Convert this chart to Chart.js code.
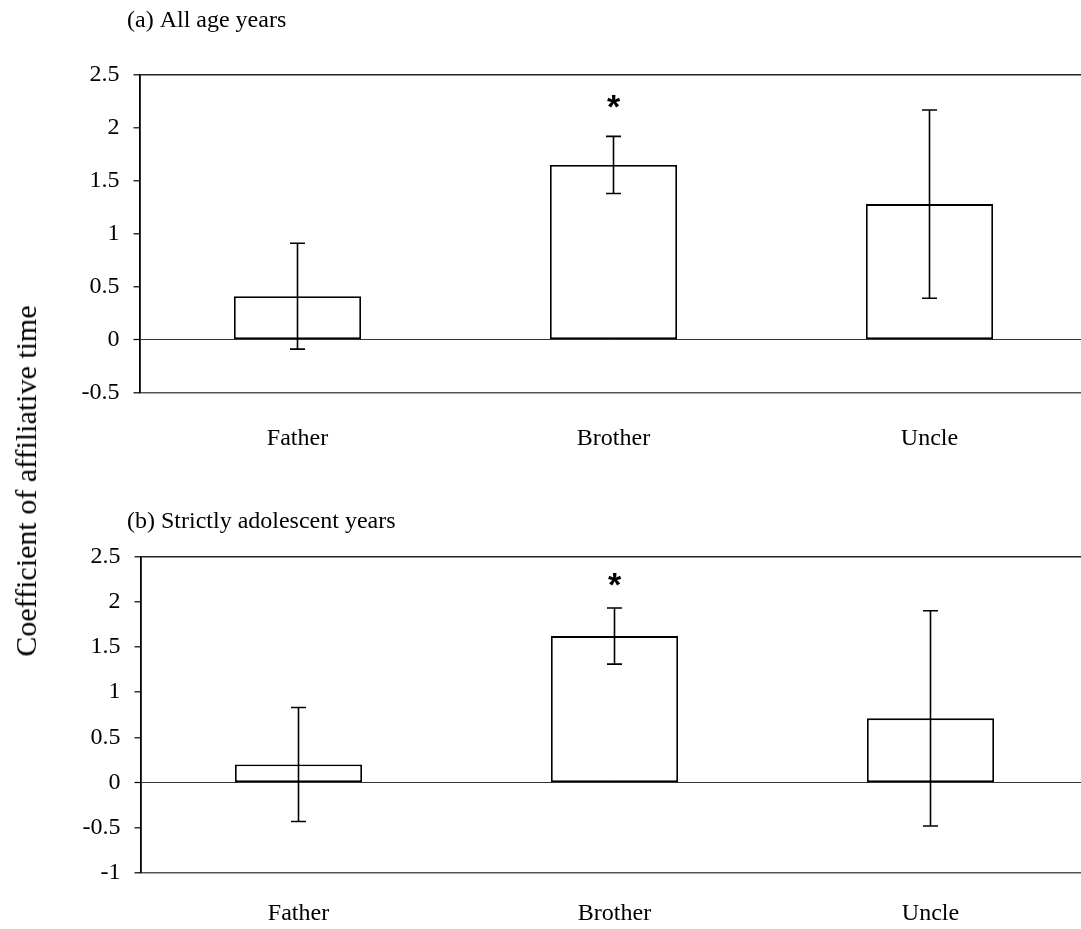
<!DOCTYPE html>
<html>
<head>
<meta charset="utf-8">
<script src="https://cdn.jsdelivr.net/npm/chart.js@4/dist/chart.umd.min.js"></script>
<style>
  html, body { margin: 0; padding: 0; background: #fff; }
  body { width: 1081px; height: 929px; overflow: hidden; position: relative; }
  canvas { position: absolute; left: 0; }
  #panelA { top: 0; }
  #panelB { top: 470px; }
  #yTitle {
    position: absolute; left: 26px; top: 481px;
    transform: translate(-50%, -50%) rotate(-90deg);
    font: 30px "Liberation Serif", "Times New Roman", serif;
    color: #000; white-space: nowrap;
  }
</style>
</head>
<body>
<canvas id="panelA" width="1100" height="470"></canvas>
<canvas id="panelB" width="1100" height="459"></canvas>
<div id="yTitle">Coefficient of affiliative time</div>
<script>
// Relatives compared
const categories = ['Father', 'Brother', 'Uncle'];

// (a) all age years: coefficient and error
const meanAll = [0.41, 1.65, 1.28];
const errAll = [0.50, 0.27, 0.89];
const marksAll = ['', '*', ''];

// (b) strictly adolescent years: coefficient and error
const meanAdol = [0.20, 1.62, 0.71];
const errAdol = [0.63, 0.31, 1.19];
const marksAdol = ['', '*', ''];

// y-axis ticks for each panel
const ticksAll = [-0.5, 0, 0.5, 1, 1.5, 2, 2.5];
const ticksAdol = [-1, -0.5, 0, 0.5, 1, 1.5, 2, 2.5];

const SERIF = '"Liberation Serif", "Times New Roman", serif';

// Error bars, significance marks and the panel heading
const panelDecor = {
  id: 'panelDecor',
  afterDatasetsDraw(chart, args, opts) {
    const ctx = chart.ctx;
    const meta = chart.getDatasetMeta(0);
    const y = chart.scales.y;
    const data = chart.data.datasets[0].data;
    ctx.save();
    ctx.strokeStyle = '#000';
    ctx.lineWidth = 1.6;
    meta.data.forEach((bar, i) => {
      const e = opts.errors[i];
      const yTop = y.getPixelForValue(data[i] + e);
      const yBot = y.getPixelForValue(data[i] - e);
      const x = bar.x;
      ctx.beginPath();
      ctx.moveTo(x, yTop); ctx.lineTo(x, yBot);
      ctx.moveTo(x - 7.5, yTop); ctx.lineTo(x + 7.5, yTop);
      ctx.moveTo(x - 7.5, yBot); ctx.lineTo(x + 7.5, yBot);
      ctx.stroke();
      const mark = opts.marks[i];
      if (mark) {
        ctx.font = 'bold 34px "Liberation Sans", Arial, sans-serif';
        ctx.fillStyle = '#000';
        ctx.textAlign = 'center';
        ctx.textBaseline = 'alphabetic';
        const m = ctx.measureText(mark);
        const cy = y.getPixelForValue(opts.markValue);
        ctx.fillText(mark, x, cy + (m.actualBoundingBoxAscent - m.actualBoundingBoxDescent) / 2);
      }
    });
    ctx.font = '24px ' + SERIF;
    ctx.fillStyle = '#000';
    ctx.textAlign = 'left';
    ctx.textBaseline = 'middle';
    ctx.fillText(opts.heading, opts.headingX, opts.headingY);
    ctx.restore();
  }
};

function makePanel(id, heading, means, errors, marks, tickValues, geom) {
  const yMin = tickValues[0];
  const yMax = tickValues[tickValues.length - 1];
  const canvas = document.getElementById(id);
  const H = canvas.height;
  return new Chart(canvas, {
    type: 'bar',
    data: {
      labels: categories,
      datasets: [{
        data: means,
        backgroundColor: '#ffffff',
        borderColor: '#000000',
        borderWidth: 1.8,
        borderSkipped: false,
        categoryPercentage: 1,
        barPercentage: 0.402
      }]
    },
    options: {
      responsive: false,
      animation: false,
      devicePixelRatio: 1,
      layout: { padding: { top: geom.top, left: 0, right: canvas.width - geom.right, bottom: 0 } },
      plugins: {
        legend: { display: false },
        tooltip: { enabled: false },
        title: { display: false },
        panelDecor: {
          errors: errors, marks: marks, markValue: 2.25,
          heading: heading, headingX: 127, headingY: geom.headingY
        }
      },
      scales: {
        x: {
          grid: { display: false },
          border: { display: false },
          ticks: {
            font: { family: SERIF, size: 24 },
            color: '#000',
            padding: geom.xPad
          },
          afterFit(scale) { scale.height = H - geom.bottom; }
        },
        y: {
          min: yMin, max: yMax,
          afterBuildTicks(scale) { scale.ticks = tickValues.map(v => ({ value: v })); },
          border: { display: true, color: '#000', width: 1.8 },
          grid: {
            drawTicks: true,
            tickLength: 6,
            tickColor: '#000',
            tickWidth: 1.2,
            lineWidth: c => (c.tick && c.tick.value === 0) ? 1 : 1.6,
            color: c => {
              const v = c.tick ? c.tick.value : null;
              if (v === 0) return '#333';
              if (v === yMax) return '#222';
              if (v === yMin) return '#555';
              return 'rgba(0,0,0,0)';
            }
          },
          ticks: {
            font: { family: SERIF, size: 24 },
            color: '#000',
            padding: 14,
            callback: v => String(v)
          },
          afterFit(scale) { scale.width = geom.left; }
        }
      }
    },
    plugins: [panelDecor]
  });
}

makePanel('panelA', '(a) All age years', meanAll, errAll, marksAll, ticksAll,
  { top: 75, bottom: 392.5, left: 139.5, right: 1087.5, headingY: 21, xPad: 24 });
makePanel('panelB', '(b) Strictly adolescent years', meanAdol, errAdol, marksAdol, ticksAdol,
  { top: 86.5, bottom: 403, left: 140.5, right: 1088.5, headingY: 52, xPad: 18 });
</script>
</body>
</html>
